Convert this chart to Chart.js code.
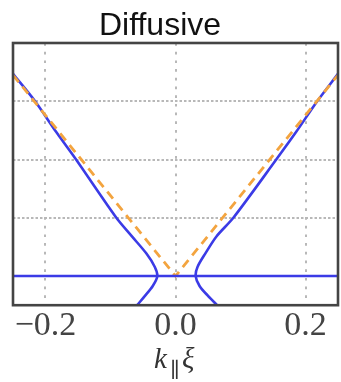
<!DOCTYPE html>
<html>
<head>
<meta charset="utf-8">
<script src="https://cdn.jsdelivr.net/npm/chart.js@4/dist/chart.umd.min.js"></script>
<style>
  html, body { margin: 0; padding: 0; background: #fff; }
  #wrap { width: 341px; height: 382px; position: relative; }
</style>
</head>
<body>
<div id="wrap"><canvas id="c" width="341" height="382"></canvas></div>
<script>
// ---- data ----
const chartTitle = "Diffusive";
const xTickValues = [-0.2, 0.0, 0.2];
const xTickLabels = ["\u22120.2", "0.0", "0.2"];
const yGridValues = [0, 1, 2, 3, 4];

// blue curve, left branch (k, E) from top to bottom
const blueLeftK = [-0.25, -0.216, -0.184, -0.153, -0.091, -0.067, -0.045, -0.032, -0.028, -0.035, -0.047, -0.059];
const blueLeftE = [3.47, 3.0, 2.48, 2.0, 1.0, 0.68, 0.39, 0.16, 0.0, -0.17, -0.34, -0.5];
// blue curve, right branch
const blueRightK = [0.25, 0.218, 0.186, 0.155, 0.089, 0.063, 0.046, 0.034, 0.031, 0.037, 0.050, 0.064];
const blueRightE = [3.47, 3.0, 2.48, 2.0, 1.0, 0.68, 0.39, 0.16, 0.0, -0.17, -0.34, -0.5];
// flat blue level
const blueFlatK = [-0.25, 0.25];
const blueFlatE = [0.0, 0.0];
// orange dashed V
const orangeK = [-0.25, 0.0, 0.25];
const orangeE = [3.45, 0.0, 3.45];

const pts = (xs, ys) => xs.map((x, i) => ({ x: x, y: ys[i] }));

const BLUE = "#3b3be6";
const ORANGE = "#f3a43f";

const framePlugin = {
  id: "frame",
  afterDatasetsDraw(chart) {
    const { ctx, chartArea: a } = chart;
    ctx.save();
    ctx.strokeStyle = "#444";
    ctx.lineWidth = 2.6;
    ctx.strokeRect(a.left, a.top, a.right - a.left, a.bottom - a.top);
    ctx.restore();
  },
  afterDraw(chart) {
    const ctx = chart.ctx;
    ctx.save();
    ctx.fillStyle = "#111";
    ctx.textAlign = "center";
    ctx.textBaseline = "alphabetic";
    ctx.font = '32px "Liberation Sans", Arial, sans-serif';
    ctx.fillText(chartTitle, 160, 35);
    // x axis label k_∥ ξ
    ctx.fillStyle = "#333";
    ctx.textAlign = "left";
    ctx.font = 'italic 29px "Liberation Serif", serif';
    ctx.fillText("k", 154, 368);
    ctx.font = '21px "DejaVu Serif", serif';
    ctx.fillText("\u2225", 170, 377);
    ctx.font = 'italic 29px "Liberation Serif", "DejaVu Serif", serif';
    ctx.fillText("\u03BE", 182, 368);
    ctx.restore();
  }
};

new Chart(document.getElementById("c"), {
  type: "scatter",
  data: {
    datasets: [
      { data: pts(blueFlatK, blueFlatE), showLine: true, borderColor: BLUE, borderWidth: 2.6, pointRadius: 0, tension: 0 },
      { data: pts(orangeK, orangeE), showLine: true, borderColor: ORANGE, borderWidth: 2.8, borderDash: [9, 6], pointRadius: 0, tension: 0 },
      { data: pts(blueLeftK, blueLeftE), showLine: true, borderColor: BLUE, borderWidth: 2.6, pointRadius: 0, tension: 0.3 },
      { data: pts(blueRightK, blueRightE), showLine: true, borderColor: BLUE, borderWidth: 2.6, pointRadius: 0, tension: 0.3 }
    ]
  },
  options: {
    responsive: false,
    animation: false,
    devicePixelRatio: 1,
    layout: { padding: { top: 43, left: 13, right: 3, bottom: 36 } },
    plugins: { legend: { display: false }, tooltip: { enabled: false }, title: { display: false } },
    scales: {
      x: {
        type: "linear",
        min: -0.25, max: 0.25,
        afterBuildTicks: s => { s.ticks = xTickValues.map(v => ({ value: v })); },
        ticks: {
          padding: 0,
          color: "#444",
          font: { family: '"Liberation Serif", serif', size: 34 },
          callback: (v, i) => xTickLabels[i],
          maxRotation: 0, autoSkip: false
        },
        grid: { color: "#b8b8b8", lineWidth: 2, drawTicks: false },
        border: { display: false, dash: [2.7, 6] }
      },
      y: {
        type: "linear",
        min: -0.5, max: 4,
        afterBuildTicks: s => { s.ticks = yGridValues.map(v => ({ value: v })); },
        ticks: { display: false },
        grid: { color: "#b8b8b8", lineWidth: 2, drawTicks: false },
        border: { display: false, dash: [2.5, 2] }
      }
    }
  },
  plugins: [framePlugin]
});
</script>
</body>
</html>
